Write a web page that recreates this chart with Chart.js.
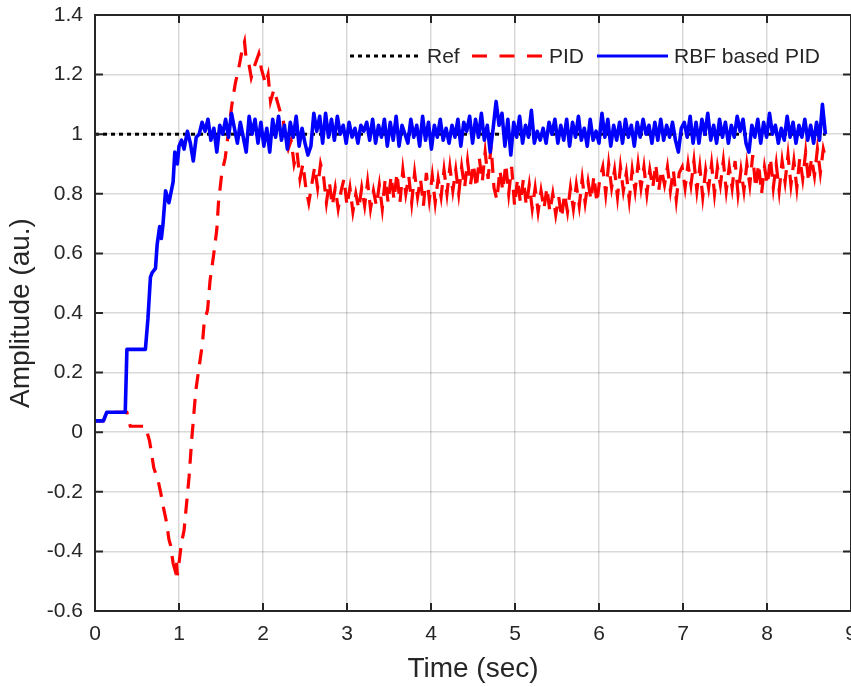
<!DOCTYPE html>
<html>
<head>
<meta charset="utf-8">
<script src="https://cdn.jsdelivr.net/npm/chart.js@4.4.1/dist/chart.umd.min.js"></script>
<style>
  body { margin: 0; background: #fff; }
  canvas { display: block; }
</style>
</head>
<body>
<canvas id="chartResponse" width="851" height="687"></canvas>
<script>
// Axis ticks
const xTickValues = [0, 1, 2, 3, 4, 5, 6, 7, 8, 9];
const yTickValues = [-0.6, -0.4, -0.2, 0, 0.2, 0.4, 0.6, 0.8, 1, 1.2, 1.4];

// Reference signal
const refT = [0, 8.7];
const refY = [1, 1];

// RBF based PID - start-up part (read point by point)
const rbfStartT = [0, 0.1, 0.14, 0.36, 0.38, 0.6, 0.63, 0.66, 0.68, 0.72, 0.74, 0.77, 0.79, 0.81, 0.84, 0.86, 0.88, 0.93, 0.95, 0.98, 1.0, 1.03, 1.06];
const rbfStartY = [0.038, 0.038, 0.067, 0.067, 0.278, 0.278, 0.38, 0.52, 0.535, 0.55, 0.63, 0.69, 0.65, 0.70, 0.81, 0.79, 0.77, 0.84, 0.94, 0.90, 0.96, 0.98, 0.95];

// RBF based PID - noisy part, sampled every SAMPLE_DT from RBF_NOISE_T0
const SAMPLE_DT = 0.035;
const RBF_NOISE_T0 = 1.10;
const rbfNoise = [
  1.01, 0.97, 0.91, 0.99, 1.00, 1.04, 1.01, 1.05, 0.98, 1.02,
  0.94, 1.03, 1.00, 1.05, 0.99, 1.07, 1.02, 0.97, 1.04, 0.99,
  0.94, 1.06, 1.00, 1.05, 0.97, 1.04, 0.96, 1.02, 0.94, 1.05,
  0.99, 1.06, 0.98, 1.03, 0.95, 1.04, 0.99, 1.06, 0.96, 1.02,
  0.97, 0.93, 0.96, 1.07, 1.01, 1.06, 0.97, 1.07, 0.99, 1.05,
  0.98, 1.06, 1.00, 1.03, 0.97, 1.04, 0.99, 1.02, 0.97, 1.03,
  1.01, 1.04, 0.98, 1.05, 0.97, 1.03, 0.99, 1.05, 0.96, 1.04,
  0.98, 1.06, 0.96, 1.03, 1.00, 0.97, 1.05, 0.99, 1.03, 0.96,
  1.06, 0.98, 1.04, 0.95, 1.03, 0.99, 1.05, 0.98, 1.02, 0.97,
  1.03, 0.99, 1.05, 0.96, 1.04, 1.01, 1.06, 0.97, 1.05, 0.99,
  1.07, 0.98, 1.03, 0.94, 1.02, 1.11, 1.03, 1.07, 0.96, 1.05,
  0.93, 1.04, 0.99, 1.06, 0.97, 1.03, 0.99, 1.08, 0.97, 1.01,
  0.98, 1.02, 0.97, 1.04, 1.00, 1.05, 0.97, 1.03, 0.98, 1.05,
  0.96, 1.04, 0.99, 1.06, 0.98, 1.02, 0.96, 1.05, 0.98, 1.01,
  0.97, 1.07, 0.99, 1.05, 0.96, 1.03, 0.98, 1.04, 0.97, 1.05,
  0.99, 1.03, 0.96, 1.04, 0.99, 1.05, 1.00, 1.03, 0.97, 1.04,
  0.98, 1.05, 0.98, 1.03, 0.99, 1.04, 0.98, 0.94, 1.02, 1.04,
  0.99, 1.06, 0.97, 1.04, 0.97, 1.05, 1.00, 1.07, 0.98, 1.03,
  0.97, 1.05, 0.99, 1.04, 0.97, 1.03, 0.99, 1.06, 1.01, 1.05,
  0.97, 0.94, 1.03, 0.99, 1.05, 0.97, 1.04, 0.99, 1.07, 1.00,
  1.03, 0.97, 1.02, 0.98, 1.06, 0.99, 1.04, 0.97, 1.03, 0.99,
  1.05, 0.98, 1.03, 0.97, 1.04, 0.98, 1.10, 1.00
];

// PID - start-up part (read point by point)
const pidStartT = [0, 0.1, 0.14, 0.38, 0.42, 0.6, 0.65, 0.7, 0.75, 0.78, 0.82, 0.85, 0.88, 0.9, 0.93, 0.95, 0.97, 0.98, 1.0, 1.03, 1.06, 1.08, 1.12, 1.15, 1.2, 1.24, 1.28, 1.3, 1.34, 1.37, 1.41, 1.45, 1.47, 1.51, 1.55, 1.59, 1.63, 1.67, 1.71, 1.75, 1.78, 1.8, 1.83, 1.86, 1.9, 1.95, 1.98, 2.0, 2.03, 2.06, 2.09, 2.13, 2.17, 2.21, 2.24, 2.27];
const pidStartY = [0.038, 0.038, 0.067, 0.067, 0.02, 0.02, -0.03, -0.12, -0.16, -0.2, -0.26, -0.3, -0.36, -0.38, -0.44, -0.46, -0.43, -0.48, -0.44, -0.37, -0.33, -0.27, -0.15, -0.03, 0.14, 0.22, 0.3, 0.37, 0.41, 0.51, 0.59, 0.68, 0.77, 0.87, 0.92, 1.01, 1.1, 1.17, 1.22, 1.28, 1.31, 1.25, 1.24, 1.19, 1.23, 1.27, 1.22, 1.2, 1.17, 1.2, 1.11, 1.15, 1.11, 1.07, 1.05, 0.98];

// PID - noisy part, sampled every SAMPLE_DT from PID_NOISE_T0
const PID_NOISE_T0 = 2.30;
const pidNoise = [
  0.95, 0.98, 0.90, 0.94, 0.85, 0.90, 0.82, 0.77, 0.83, 0.89,
  0.82, 0.90, 0.86, 0.77, 0.84, 0.76, 0.82, 0.75, 0.81, 0.85,
  0.76, 0.82, 0.74, 0.80, 0.75, 0.82, 0.76, 0.84, 0.75, 0.81,
  0.76, 0.83, 0.75, 0.85, 0.77, 0.86, 0.78, 0.87, 0.77, 0.88,
  0.80, 0.86, 0.77, 0.87, 0.79, 0.85, 0.76, 0.87, 0.78, 0.86,
  0.77, 0.85, 0.79, 0.88, 0.80, 0.89, 0.81, 0.88, 0.80, 0.89,
  0.82, 0.91, 0.83, 0.90, 0.82, 0.92, 0.84, 0.94, 0.85, 0.96,
  0.82, 0.78, 0.88, 0.81, 0.90, 0.80, 0.89, 0.76, 0.85, 0.77,
  0.85, 0.76, 0.83, 0.75, 0.82, 0.74, 0.81, 0.75, 0.82, 0.74,
  0.80, 0.73, 0.79, 0.72, 0.80, 0.74, 0.82, 0.75, 0.83, 0.76,
  0.85, 0.77, 0.84, 0.78, 0.86, 0.77, 0.85, 0.89, 0.80, 0.90,
  0.82, 0.88, 0.79, 0.89, 0.81, 0.87, 0.78, 0.88, 0.81, 0.90,
  0.82, 0.89, 0.80, 0.88, 0.82, 0.90, 0.81, 0.88, 0.83, 0.89,
  0.81, 0.88, 0.78, 0.87, 0.89, 0.82, 0.90, 0.83, 0.91, 0.81,
  0.89, 0.79, 0.88, 0.82, 0.90, 0.80, 0.89, 0.83, 0.91, 0.81,
  0.89, 0.82, 0.91, 0.80, 0.88, 0.81, 0.90, 0.83, 0.93, 0.82,
  0.90, 0.80, 0.89, 0.83, 0.92, 0.82, 0.90, 0.81, 0.91, 0.84,
  0.93, 0.83, 0.91, 0.82, 0.92, 0.85, 0.94, 0.84, 0.92, 0.86,
  0.95, 0.87, 0.95, 0.91
];

const AXIS_COLOR = '#262626';
const FONT = '"Liberation Sans", Arial, Helvetica, sans-serif';

function toPoints(ts, ys) {
  return ts.map((t, i) => ({x: t, y: ys[i]}));
}
function sampled(t0, values) {
  return values.map((v, i) => ({x: +(t0 + i * SAMPLE_DT).toFixed(3), y: v}));
}

const refData = toPoints(refT, refY);
const rbfData = toPoints(rbfStartT, rbfStartY).concat(sampled(RBF_NOISE_T0, rbfNoise));
const pidData = toPoints(pidStartT, pidStartY).concat(sampled(PID_NOISE_T0, pidNoise));

const legendItems = [
  {label: 'Ref', color: '#000000', dash: [4, 4], x: 350},
  {label: 'PID', color: '#ff0000', dash: [15, 12.5], x: 472},
  {label: 'RBF based PID', color: '#0000ff', dash: [], x: 597}
];

// Box around plot with inward tick marks (MATLAB style)
const framePlugin = {
  id: 'frame',
  afterDatasetsDraw(chart) {
    const {ctx, chartArea: a, scales: {x, y}} = chart;
    ctx.save();
    ctx.strokeStyle = AXIS_COLOR;
    ctx.lineWidth = 2;
    ctx.beginPath();
    xTickValues.forEach(v => {
      const px = x.getPixelForValue(v);
      ctx.moveTo(px, a.bottom); ctx.lineTo(px, a.bottom - 8);
      ctx.moveTo(px, a.top); ctx.lineTo(px, a.top + 8);
    });
    yTickValues.forEach(v => {
      const py = y.getPixelForValue(v);
      ctx.moveTo(a.left, py); ctx.lineTo(a.left + 8, py);
      ctx.moveTo(a.right, py); ctx.lineTo(a.right - 8, py);
    });
    ctx.stroke();
    ctx.strokeRect(a.left, a.top, a.right - a.left, a.bottom - a.top);
    ctx.restore();
  }
};

// Legend inside the plot, no box
const legendPlugin = {
  id: 'insideLegend',
  afterDraw(chart) {
    const {ctx} = chart;
    const yMid = 56;
    ctx.save();
    ctx.font = '21px ' + FONT;
    ctx.textBaseline = 'middle';
    ctx.fillStyle = AXIS_COLOR;
    legendItems.forEach(item => {
      ctx.strokeStyle = item.color;
      ctx.lineWidth = 3;
      ctx.setLineDash(item.dash);
      ctx.beginPath();
      ctx.moveTo(item.x, yMid);
      ctx.lineTo(item.x + 71, yMid);
      ctx.stroke();
      ctx.setLineDash([]);
      ctx.fillText(item.label, item.x + 77, yMid + 1);
    });
    ctx.restore();
  }
};

const ctx = document.getElementById('chartResponse').getContext('2d');
new Chart(ctx, {
  type: 'line',
  data: {
    datasets: [
      {
        label: 'Ref',
        data: refData,
        borderColor: '#000000',
        borderWidth: 3,
        borderDash: [4, 4],
        order: 3
      },
      {
        label: 'PID',
        data: pidData,
        borderColor: '#ff0000',
        borderWidth: 3.2,
        borderDash: [15, 10],
        order: 2
      },
      {
        label: 'RBF based PID',
        data: rbfData,
        borderColor: '#0000ff',
        borderWidth: 3.6,
        borderJoinStyle: 'round',
        order: 1
      }
    ]
  },
  options: {
    responsive: false,
    animation: false,
    parsing: false,
    layout: { padding: { top: 15, right: 0, left: 0, bottom: 0 } },
    elements: {
      point: { radius: 0 },
      line: { tension: 0, fill: false }
    },
    plugins: {
      legend: { display: false },
      tooltip: { enabled: false }
    },
    scales: {
      x: {
        type: 'linear',
        min: 0,
        max: 9,
        afterBuildTicks: scale => { scale.ticks = xTickValues.map(v => ({value: v})); },
        afterFit: scale => { scale.height = 76; scale.paddingLeft = 0; scale.paddingRight = 0; },
        grid: { color: 'rgba(0,0,0,0.15)', lineWidth: 1.5, drawTicks: false },
        border: { display: false },
        ticks: {
          color: AXIS_COLOR,
          padding: 11,
          maxRotation: 0,
          autoSkip: false,
          font: { family: FONT, size: 21 },
          callback: v => String(v)
        },
        title: {
          display: true,
          text: 'Time (sec)',
          color: AXIS_COLOR,
          font: { family: FONT, size: 28 },
          padding: { top: 0, bottom: 1 }
        }
      },
      y: {
        type: 'linear',
        min: -0.6,
        max: 1.4,
        afterBuildTicks: scale => { scale.ticks = yTickValues.map(v => ({value: v})); },
        afterFit: scale => { scale.width = 95; scale.paddingTop = 0; scale.paddingBottom = 0; },
        grid: { color: 'rgba(0,0,0,0.15)', lineWidth: 1.5, drawTicks: false },
        border: { display: false },
        ticks: {
          color: AXIS_COLOR,
          padding: 12,
          autoSkip: false,
          font: { family: FONT, size: 21 },
          callback: v => String(+v.toFixed(1))
        },
        title: {
          display: true,
          text: 'Amplitude (au.)',
          color: AXIS_COLOR,
          font: { family: FONT, size: 28 },
          padding: { top: 4, bottom: 0 }
        }
      }
    }
  },
  plugins: [framePlugin, legendPlugin]
});
</script>
</body>
</html>
